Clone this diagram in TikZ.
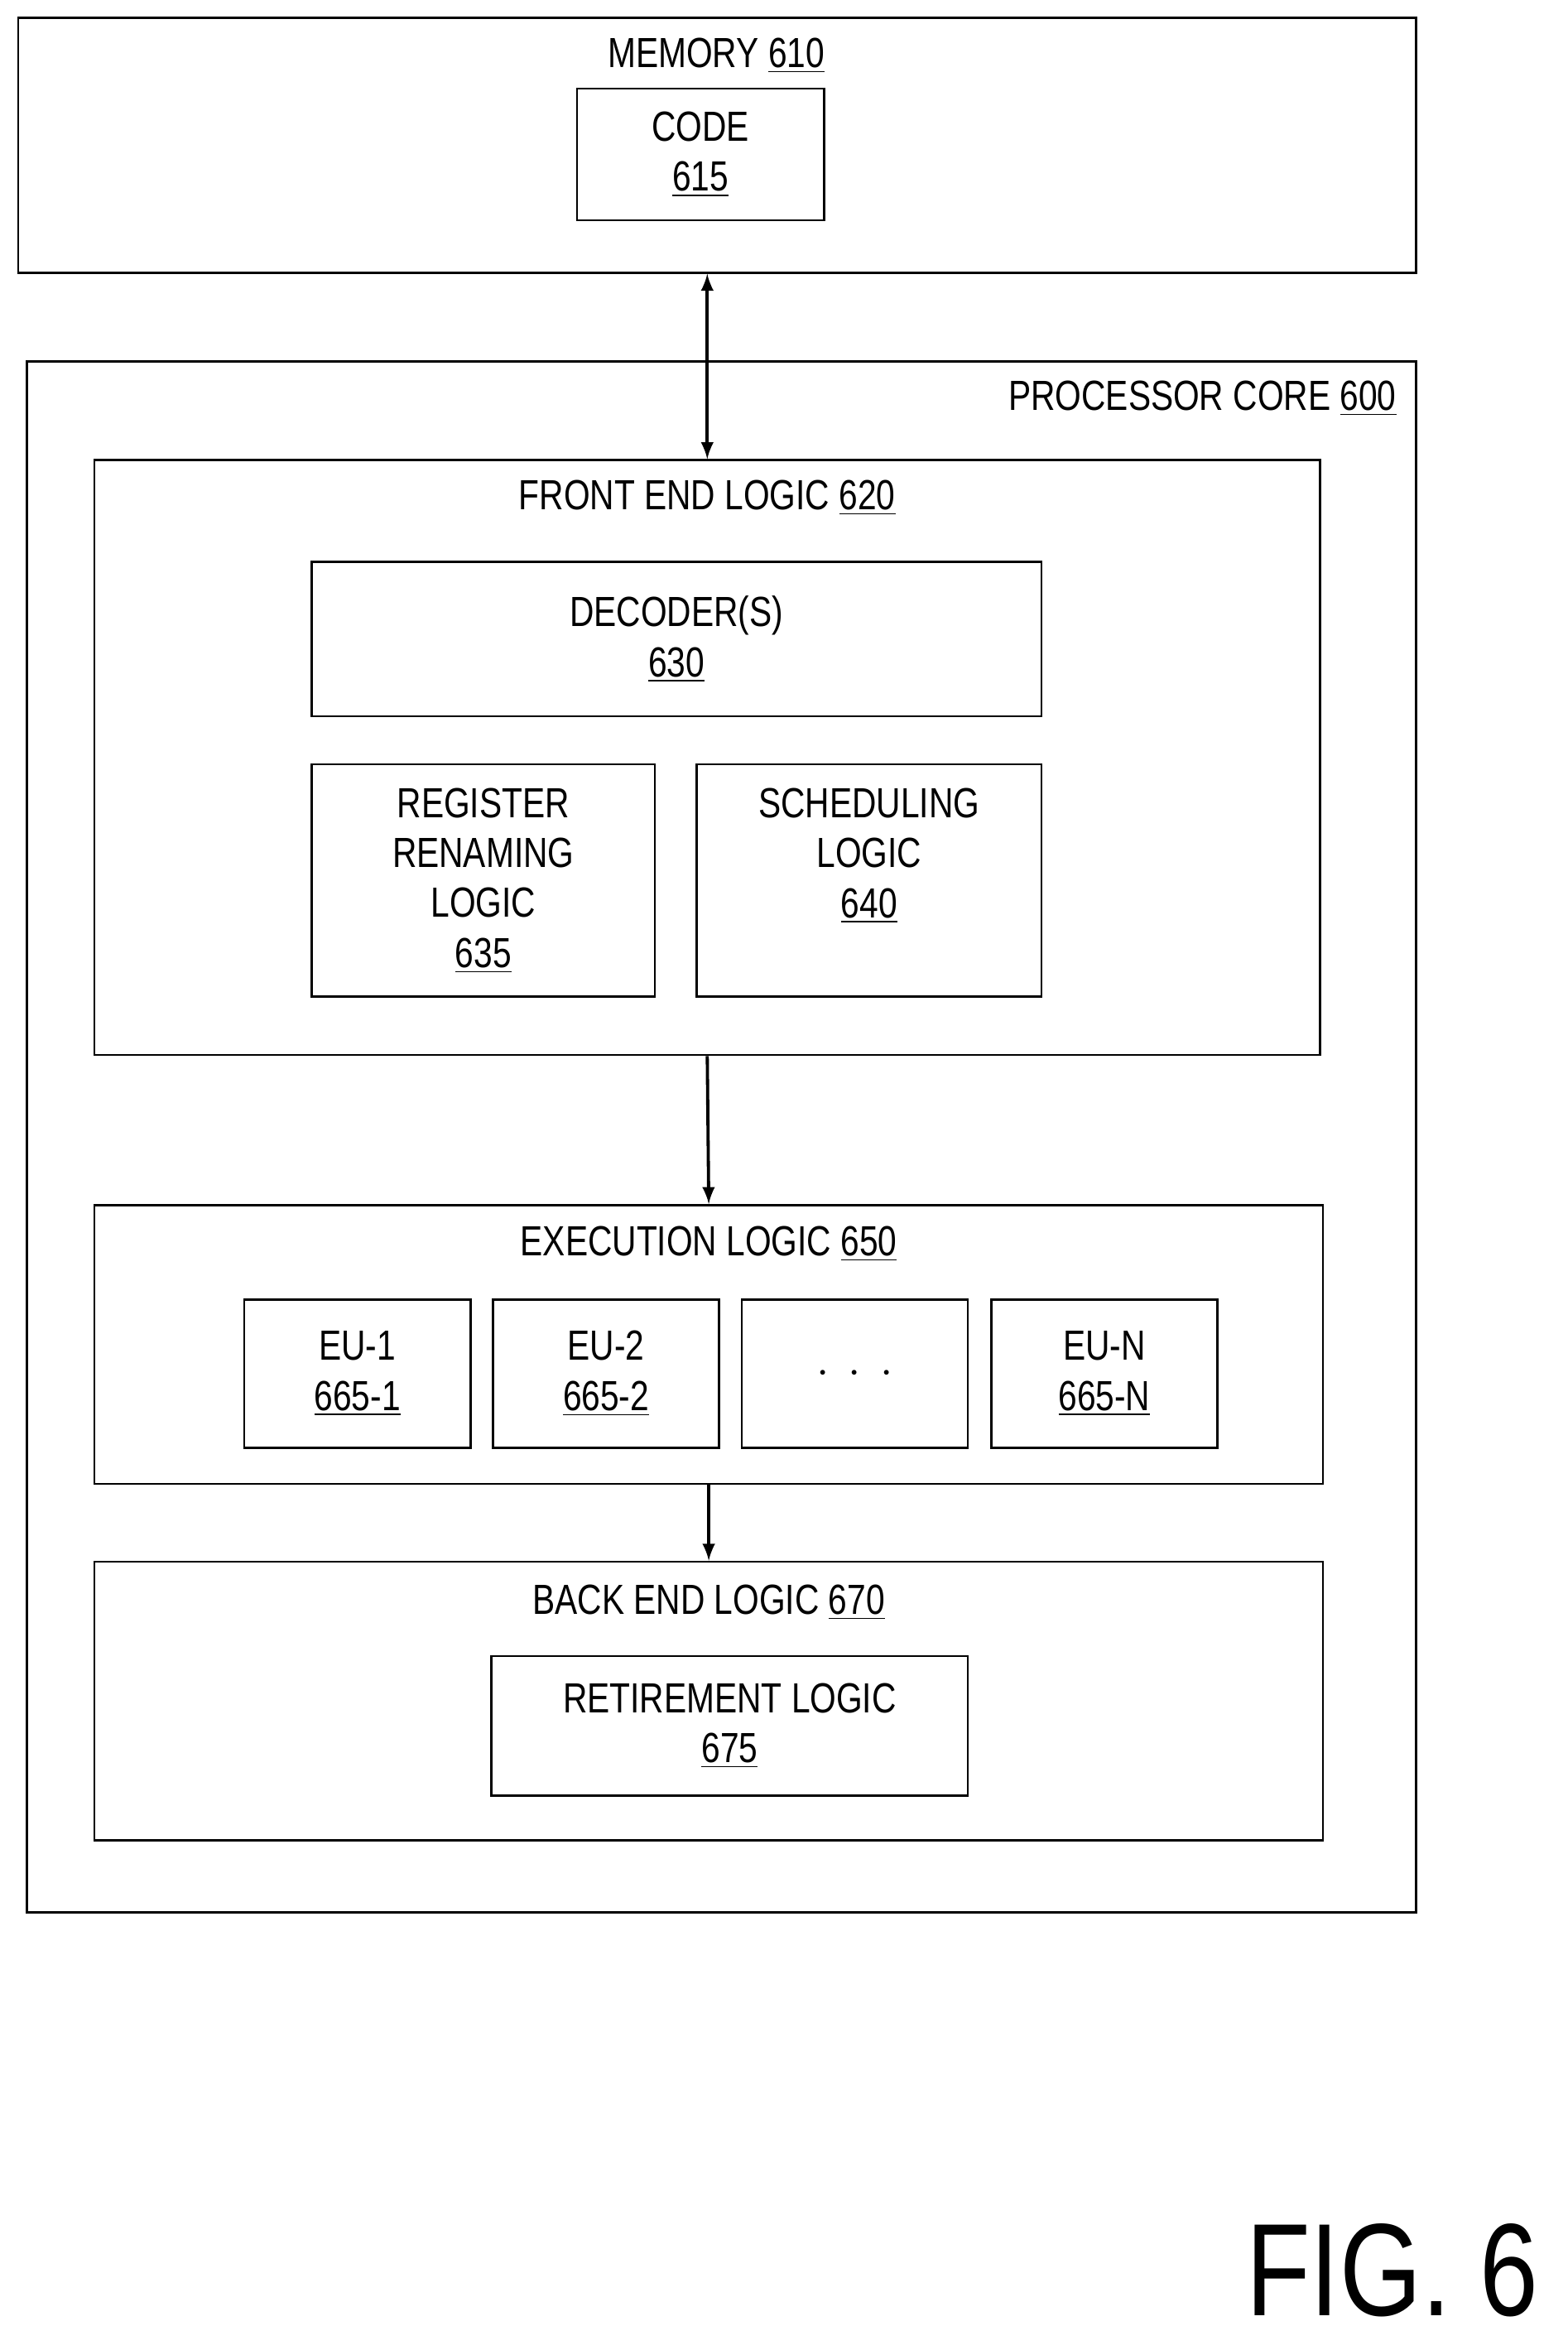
\documentclass[tikz,border=0pt]{standalone}
\usepackage{fontspec}
\setmainfont{Liberation Sans}[FakeStretch=0.8]
\usetikzlibrary{positioning}
\tikzset{box/.style={draw,thick,fill=none,inner sep=0pt}}
\tikzset{lbl/.style={font=\fontsize{16}{19}\selectfont,align=center}}
\newcommand{\ul}[1]{\underline{#1}}
\begin{document}
\begin{tikzpicture}[>=latex,x=0.02cm,y=-0.02cm,
    % boxes are sized in cm, placed in pixel units
    block/.style={box,lbl},
    eu/.style   ={block,minimum width=3.02cm,minimum height=1.98cm},
    link/.style ={line width=1.2pt}
  ]
    \useasboundingbox (0,0) rectangle (1046,1568);
    % memory
    \node[box,minimum width=18.66cm,minimum height=3.4cm](mem) at (478.5,97){};
    \node[lbl](memlbl) at (478,37){MEMORY \ul{610}};
    \node[block,minimum width=3.3cm,minimum height=1.76cm](code) at (467.5,103){CODE\\\ul{615}};
    % processor core
    \node[box,minimum width=18.54cm,minimum height=20.7cm](core) at (481.5,758.5){};
    \node[lbl,anchor=east](corelbl) at (938,266){PROCESSOR CORE \ul{600}};
    % front end
    \node[box,minimum width=16.36cm,minimum height=7.94cm](front) at (472,505.5){};
    \node[lbl](frontlbl) at (472,332){FRONT END LOGIC \ul{620}};
    \node[block,minimum width=9.74cm,minimum height=2.06cm](dec) at (451.5,426.5){DECODER(S)\\\ul{630}};
    \node[block,minimum width=4.58cm,minimum height=3.1cm](ren) at (322.5,587.5){REGISTER\\RENAMING\\LOGIC\\\ul{635}};
    \node[block,minimum width=4.6cm,minimum height=3.1cm,text depth=0.74cm](sch) at (580,587.5){SCHEDULING\\LOGIC\\\ul{640}};
    % execution
    \node[box,minimum width=16.4cm,minimum height=3.72cm](exec) at (473,897){};
    \node[lbl](execlbl) at (473,830){EXECUTION LOGIC \ul{650}};
    \node[eu](eu1) at (238.5,916.5){EU-1\\\ul{665-1}};
    \node[eu](eu2) at (404.5,916.5){EU-2\\\ul{665-2}};
    \node[eu](eu3) at (570.5,916.5){$\cdot\ \cdot\ \cdot$};
    \node[eu](eun) at (737,916.5){EU-N\\\ul{665-N}};
    % back end
    \node[box,minimum width=16.4cm,minimum height=3.72cm](back) at (473,1135){};
    \node[lbl](backlbl) at (473,1069){BACK END LOGIC \ul{670}};
    \node[block,minimum width=6.36cm,minimum height=1.86cm](ret) at (487,1151.5){RETIREMENT LOGIC\\\ul{675}};

    \draw[<->,link] (mem.south -| front.north) -- (front.north);
    \draw[->,link] (front.south) -- (exec.north);
    \draw[->,link] (exec.south) -- (back.north);

    \node[font=\fontsize{50}{54}\selectfont,anchor=base east](fig) at (1033,1545){FIG. 6};
\end{tikzpicture}
\end{document}
